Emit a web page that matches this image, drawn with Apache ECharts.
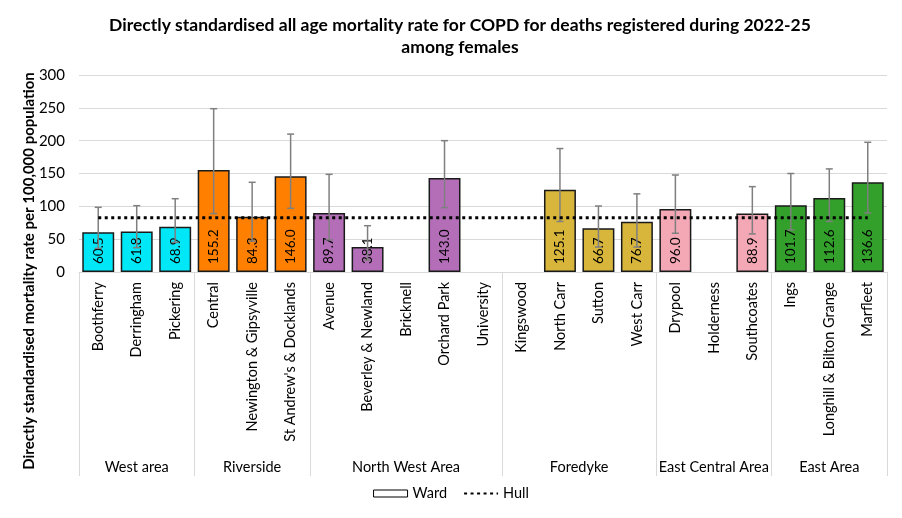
<!DOCTYPE html>
<html>
<head>
<meta charset="utf-8">
<script src="https://cdn.jsdelivr.net/npm/echarts@6/dist/echarts.min.js"></script>
<style>html,body{margin:0;padding:0;background:#fff}#c{width:902px;height:518px}</style>
</head>
<body>
<div id="c"></div>
<script>
const wards = ['Boothferry','Derringham','Pickering','Central','Newington & Gipsyville',"St Andrew's & Docklands",'Avenue','Beverley & Newland','Bricknell','Orchard Park','University','Kingswood','North Carr','Sutton','West Carr','Drypool','Holderness','Southcoates','Ings','Longhill & Bilton Grange','Marfleet'];
const groups = ['West area','Riverside','North West Area','Foredyke','East Central Area','East Area'];
const groupSizes = [3,3,5,4,3,3];
const groupColors = ['#00E8F8','#FF8000','#B46EB8','#D8B63C','#F4A7B5','#33A02C'];
const rates = [60.5,61.8,68.9,155.2,84.3,146.0,89.7,38.1,null,143.0,null,null,125.1,66.7,76.7,96.0,null,88.9,101.7,112.6,136.6];
const lowerCI = [36,37,45,89,47,97,49,18,null,98,null,null,77,38,38,59,null,58,64,77,90];
const upperCI = [98.5,101,111.6,248.7,136.6,210,148.7,70.5,null,200,null,null,188,100.5,119,147.7,null,130,150,157,197.5];
const hullRate = 82.7;
const yTicks = {min:0, max:300, interval:50};

const font = 'Lato, "Open Sans", sans-serif';
const groupOf = [];
groupSizes.forEach((n,g)=>{for(let k=0;k<n;k++) groupOf.push(g);});
const bounds = [0];
groupSizes.forEach(n=>bounds.push(bounds[bounds.length-1]+n));
const centers = groupSizes.map((n,g)=>bounds[g]+n/2);

const barData = rates.map((v,i)=> v==null ? '-' : {value:v, itemStyle:{color:groupColors[groupOf[i]]}});
const errData = rates.map((v,i)=> v==null ? null : [i, lowerCI[i], upperCI[i]]).filter(d=>d);
const hullData = wards.map(()=>hullRate);

const chart = echarts.init(document.getElementById('c'));
chart.setOption({
  animation:false,
  textStyle:{fontFamily:font},
  title:{
    text:'Directly standardised all age mortality rate for COPD for deaths registered during 2022-25\namong females',
    left:455, top:9, textAlign:'center',
    textStyle:{fontFamily:font, fontSize:17.5, fontWeight:'bold', color:'#000', lineHeight:22}
  },
  graphic:[{
    type:'text', x:29, y:271, rotation:Math.PI/2,
    style:{text:'Directly standardised mortality rate per 100,000 population', font:'bold 15px '+font, fill:'#000', align:'center', verticalAlign:'middle'}
  }],
  grid:{left:79, right:15, top:75, bottom:246, containLabel:false},
  legend:{
    bottom:12, left:'center', itemGap:16, itemWidth:34, itemHeight:7,
    textStyle:{fontFamily:font, fontSize:14.5, color:'#000'},
    data:[
      {name:'Ward', icon:'rect', itemStyle:{color:'#fff', borderColor:'#000', borderWidth:1}},
      {name:'Hull', itemStyle:{opacity:0}}
    ]
  },
  xAxis:[{
    type:'category', data:wards, position:'bottom',
    axisLine:{show:true, lineStyle:{color:'#d9d9d9', width:1}},
    axisTick:{show:false},
    axisLabel:{interval:0, rotate:90, margin:10, fontSize:14.5, color:'#000', fontFamily:font}
  },{
    type:'value', min:0, max:wards.length, position:'bottom',
    axisLine:{show:false}, splitLine:{show:false},
    axisTick:{show:true, customValues:bounds, length:204, lineStyle:{color:'#d9d9d9', width:1}},
    axisLabel:{show:true, customValues:centers, margin:188, fontSize:14.5, color:'#000', fontFamily:font,
      formatter:function(v){const g=centers.findIndex(c=>Math.abs(c-v)<1e-6); return g>=0?groups[g]:'';}}
  }],
  yAxis:{
    type:'value', min:yTicks.min, max:yTicks.max, interval:yTicks.interval,
    axisLine:{show:false}, axisTick:{show:false},
    axisLabel:{fontSize:15, color:'#000', margin:14, fontFamily:font},
    splitLine:{lineStyle:{color:'#d9d9d9', width:1}}
  },
  series:[{
    name:'Ward', type:'bar', xAxisIndex:0, data:barData, barWidth:'83%',
    itemStyle:{borderColor:'#1a1a1a', borderWidth:1.5},
    label:{show:true, position:'insideBottom', rotate:90, align:'left', verticalAlign:'middle', distance:8,
      fontSize:13.5, color:'#000', fontFamily:font, formatter:p=>Number(p.value).toFixed(1)},
    z:2
  },{
    name:'Errors', type:'custom', xAxisIndex:0, data:errData, z:3, silent:true,
    renderItem:function(params, api){
      const i=api.value(0);
      const lo=api.coord([i, api.value(1)]);
      const hi=api.coord([i, api.value(2)]);
      const w=3.5;
      const st={stroke:'#7f7f7f', lineWidth:1.5};
      return {type:'group', children:[
        {type:'line', shape:{x1:lo[0],y1:lo[1],x2:hi[0],y2:hi[1]}, style:st},
        {type:'line', shape:{x1:lo[0]-w,y1:lo[1],x2:lo[0]+w,y2:lo[1]}, style:st},
        {type:'line', shape:{x1:hi[0]-w,y1:hi[1],x2:hi[0]+w,y2:hi[1]}, style:st}
      ]};
    }
  },{
    name:'Hull', type:'line', xAxisIndex:0, data:hullData, symbol:'none', z:4,
    lineStyle:{color:'#000', width:3, type:[3,3.5]},
    itemStyle:{color:'#000'}
  }]
});
</script>
</body>
</html>
